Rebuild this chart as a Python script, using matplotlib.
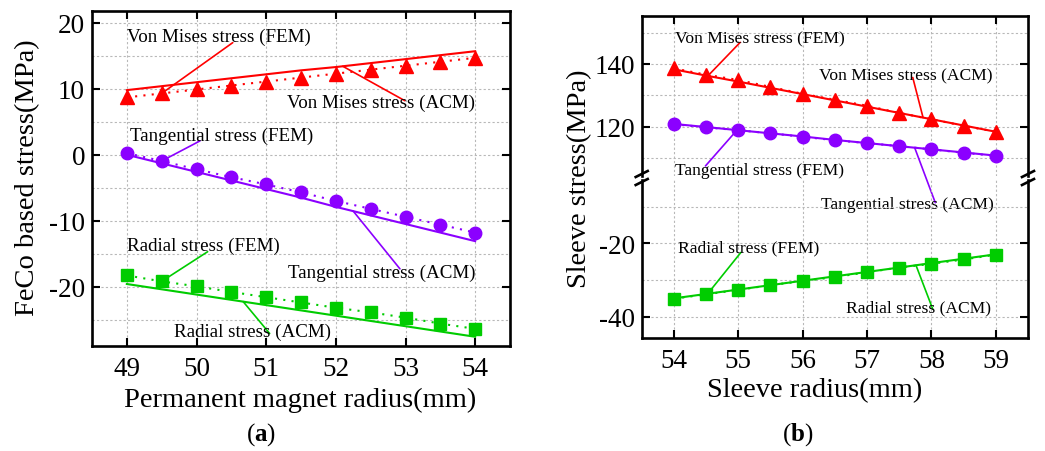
import numpy as np
import matplotlib
matplotlib.use("Agg")
import matplotlib.pyplot as plt
from matplotlib.lines import Line2D

plt.rcParams["font.family"] = ["Liberation Serif", "DejaVu Serif"]
plt.rcParams["mathtext.fontset"] = "custom"
plt.rcParams["mathtext.rm"] = "Liberation Serif"
plt.rcParams["mathtext.bf"] = "Liberation Serif:bold"
plt.rcParams["axes.unicode_minus"] = False

RED, PURPLE, GREEN = "#ff0000", "#8b00ff", "#00cc00"

# ---- (a) FeCo based stress vs permanent magnet radius ----
r_pm = [49, 49.5, 50, 50.5, 51, 51.5, 52, 52.5, 53, 53.5, 54]
vm_fem_a = [8.7, 9.3, 9.9, 10.5, 11.1, 11.7, 12.3, 12.9, 13.5, 14.1, 14.7]
vm_acm_a = [9.8, 10.4, 11.0, 11.6, 12.2, 12.8, 13.3, 13.9, 14.5, 15.1, 15.7]
tan_fem_a = [0.25, -0.95, -2.2, -3.4, -4.5, -5.7, -7.0, -8.2, -9.4, -10.6, -11.8]
tan_acm_a = [0.0, -1.3, -2.6, -3.9, -5.2, -6.5, -7.9, -9.2, -10.5, -11.8, -13.1]
rad_fem_a = [-18.3, -19.2, -19.95, -20.8, -21.6, -22.4, -23.2, -23.9, -24.7, -25.6, -26.4]
rad_acm_a = [-19.6, -20.4, -21.2, -22.0, -22.8, -23.6, -24.4, -25.2, -26.0, -26.8, -27.6]

# ---- (b) sleeve stress vs sleeve radius ----
r_sl = [54, 54.5, 55, 55.5, 56, 56.5, 57, 57.5, 58, 58.5, 59]
vm_fem_b = [138.6, 136.6, 134.9, 132.7, 130.5, 128.6, 126.7, 124.4, 122.4, 120.3, 118.4]
vm_acm_b = [138.3, 136.3, 134.4, 132.4, 130.4, 128.4, 126.4, 124.4, 122.4, 120.4, 118.4]
tan_fem_b = [120.8, 119.8, 118.9, 117.9, 116.8, 115.7, 114.8, 113.8, 112.8, 111.7, 110.7]
tan_acm_b = [120.9, 119.9, 118.9, 117.9, 116.9, 115.8, 114.8, 113.8, 112.8, 111.8, 110.8]
rad_fem_b = [-35.1, -33.9, -32.7, -31.4, -30.3, -29.2, -27.9, -26.6, -25.6, -24.4, -23.1]
rad_acm_b = [-35.0, -33.8, -32.6, -31.4, -30.2, -29.0, -27.8, -26.6, -25.4, -24.2, -23.0]

FS_TICK = 19.5
FS_LABEL = 20.5


def style_axes(ax, top=True, bottom=True):
    for s in ax.spines.values():
        s.set_linewidth(1.9)
    ax.tick_params(axis="both", which="major", direction="in", length=6, width=1.5,
                   labelsize=FS_TICK, top=top, bottom=bottom, right=True, left=True,
                   labeltop=False, labelright=False, labelbottom=bottom)
    ax.tick_params(axis="x", pad=7)
    ax.tick_params(axis="y", pad=5)
    ax.tick_params(which="minor", length=0)
    ax.grid(True, which="both", axis="y", color="#b8b8b8", ls=(0, (2, 2)), lw=0.8)
    ax.grid(True, which="major", axis="x", color="#b8b8b8", ls=(0, (2, 2)), lw=0.8)
    ax.set_axisbelow(True)
    ax.patch.set_alpha(0)


def leader(ax, text, txt_xy, start, x_tgt, series, xs, color, fs):
    y_tgt = np.interp(x_tgt, xs, series)
    ax.annotate("", xy=(x_tgt, y_tgt), xytext=start, annotation_clip=False,
                arrowprops=dict(arrowstyle="-", color=color, lw=1.2, shrinkA=0, shrinkB=0))
    ax.text(txt_xy[0], txt_xy[1], text, fontsize=fs, ha="left", va="center", clip_on=False)


fig = plt.figure(figsize=(10.45, 4.52), dpi=100)

# panel (a)
ax = fig.add_axes([92 / 1045, 1 - 347 / 452, 418 / 1045, 335 / 452])
ax.plot(r_pm, vm_acm_a, color=RED, lw=1.5)
ax.plot(r_pm, vm_fem_a, color=RED, lw=1.5, ls=(0, (1, 3)), marker="^", ms=10)
ax.plot(r_pm, tan_acm_a, color=PURPLE, lw=1.5)
ax.plot(r_pm, tan_fem_a, color=PURPLE, lw=1.5, ls=(0, (1, 3)), marker="o", ms=9)
ax.plot(r_pm, rad_acm_a, color=GREEN, lw=1.5)
ax.plot(r_pm, rad_fem_a, color=GREEN, lw=1.5, ls=(0, (1, 3)), marker="s", ms=8)
ax.set_xlim(48.5, 54.5)
ax.set_ylim(-29, 21.8)
ax.set_xticks([49, 50, 51, 52, 53, 54])
ax.set_yticks([-20, -10, 0, 10, 20])
ax.set_yticks([-25, -15, -5, 5, 15], minor=True)
style_axes(ax)
ax.set_xlabel("Permanent magnet radius(mm)", fontsize=FS_LABEL)
ax.xaxis.set_label_coords(0.499, -0.122)
ax.set_ylabel("FeCo based stress(MPa)", fontsize=FS_LABEL)
ax.yaxis.set_label_coords(-0.124, 0.504)

fs_a = 13.7
leader(ax, "Von Mises stress (FEM)", (49.0, 17.9), (50.52, 17.0), 49.5, vm_fem_a, r_pm, RED, fs_a)
leader(ax, "Von Mises stress (ACM)", (51.30, 7.9), (52.99, 8.2), 52.1, vm_acm_a, r_pm, RED, fs_a)
leader(ax, "Tangential stress (FEM)", (49.04, 2.9), (50.05, 2.1), 49.5, tan_fem_a, r_pm, PURPLE, fs_a)
leader(ax, "Tangential stress (ACM)", (51.31, -17.9), (52.92, -17.3), 52.25, tan_acm_a, r_pm, PURPLE, fs_a)
leader(ax, "Radial stress (FEM)", (49.0, -13.8), (50.16, -14.7), 49.5, rad_fem_a, r_pm, GREEN, fs_a)
leader(ax, "Radial stress (ACM)", (49.68, -26.8), (51.05, -27.1), 50.67, rad_acm_a, r_pm, GREEN, fs_a)

# panel (b): broken y axis -> two stacked axes
L, W = 641.7 / 1045, 386.3 / 1045
ax_top = fig.add_axes([L, 1 - 177 / 452, W, 160 / 452])
ax_bot = fig.add_axes([L, 1 - 339 / 452, W, 158 / 452])
for a in (ax_top, ax_bot):
    a.plot(r_sl, vm_acm_b, color=RED, lw=1.5)
    a.plot(r_sl, vm_fem_b, color=RED, lw=1.5, ls=(0, (1, 3)), marker="^", ms=10)
    a.plot(r_sl, tan_acm_b, color=PURPLE, lw=1.5)
    a.plot(r_sl, tan_fem_b, color=PURPLE, lw=1.5, ls=(0, (1, 3)), marker="o", ms=9)
    a.plot(r_sl, rad_acm_b, color=GREEN, lw=1.5)
    a.plot(r_sl, rad_fem_b, color=GREEN, lw=1.5, ls=(0, (1, 3)), marker="s", ms=8)
    a.set_xlim(53.5, 59.5)
    a.set_xticks([54, 55, 56, 57, 58, 59])
ax_top.set_ylim(104.3, 155.3)
ax_top.set_yticks([120, 140])
ax_top.set_yticks([110, 130, 150], minor=True)
ax_bot.set_ylim(-45.8, -2.75)
ax_bot.set_yticks([-40, -20])
ax_bot.set_yticks([-30, -10], minor=True)
style_axes(ax_top, top=True, bottom=False)
style_axes(ax_bot, top=False, bottom=True)
ax_top.spines["bottom"].set_visible(False)
ax_bot.spines["top"].set_visible(False)
ax_bot.set_xlabel("Sleeve radius(mm)", fontsize=FS_LABEL)
ax_bot.xaxis.set_label_coords((815 - 641.7) / 386.3, -(378 - 339) / 158)
fig.text(580 / 1045, 1 - 178.5 / 452, "Sleeve stress(MPa)", fontsize=FS_LABEL,
         rotation=90, ha="center", va="center")

# break marks on both side spines
for xf in (L, L + W):
    for yp in (175.0, 183.0):
        yf = 1 - yp / 452
        fig.add_artist(Line2D([xf - 6 / 1045, xf + 6 / 1045], [yf - 3 / 452, yf + 3 / 452],
                              color="black", lw=1.9, transform=fig.transFigure))

fs_b = 12.6
leader(ax_top, "Von Mises stress (FEM)", (54.01, 148.3), (55.03, 146.9), 54.54, vm_fem_b, r_sl, RED, fs_b)
leader(ax_top, "Von Mises stress (ACM)", (56.26, 136.5), (57.71, 135.7), 57.87, vm_acm_b, r_sl, RED, fs_b)
leader(ax_top, "Tangential stress (FEM)", (54.01, 106.1), (54.49, 107.5), 54.98, tan_fem_b, r_sl, PURPLE, fs_b)
leader(ax_top, "Tangential stress (ACM)", (56.29, 95.3), (58.06, 95.8), 57.74, tan_acm_b, r_sl, PURPLE, fs_b)
leader(ax_bot, "Radial stress (FEM)", (54.06, -21.1), (55.04, -22.5), 54.52, rad_fem_b, r_sl, GREEN, fs_b)
leader(ax_bot, "Radial stress (ACM)", (56.67, -37.4), (58.02, -37.9), 57.76, rad_acm_b, r_sl, GREEN, fs_b)

# captions
fig.text(261 / 1045, 1 - 435 / 452, r"($\mathbf{a}$)", fontsize=18, ha="center", va="center")
fig.text(798 / 1045, 1 - 435 / 452, r"($\mathbf{b}$)", fontsize=18, ha="center", va="center")

fig.savefig("out.png", dpi=100)
